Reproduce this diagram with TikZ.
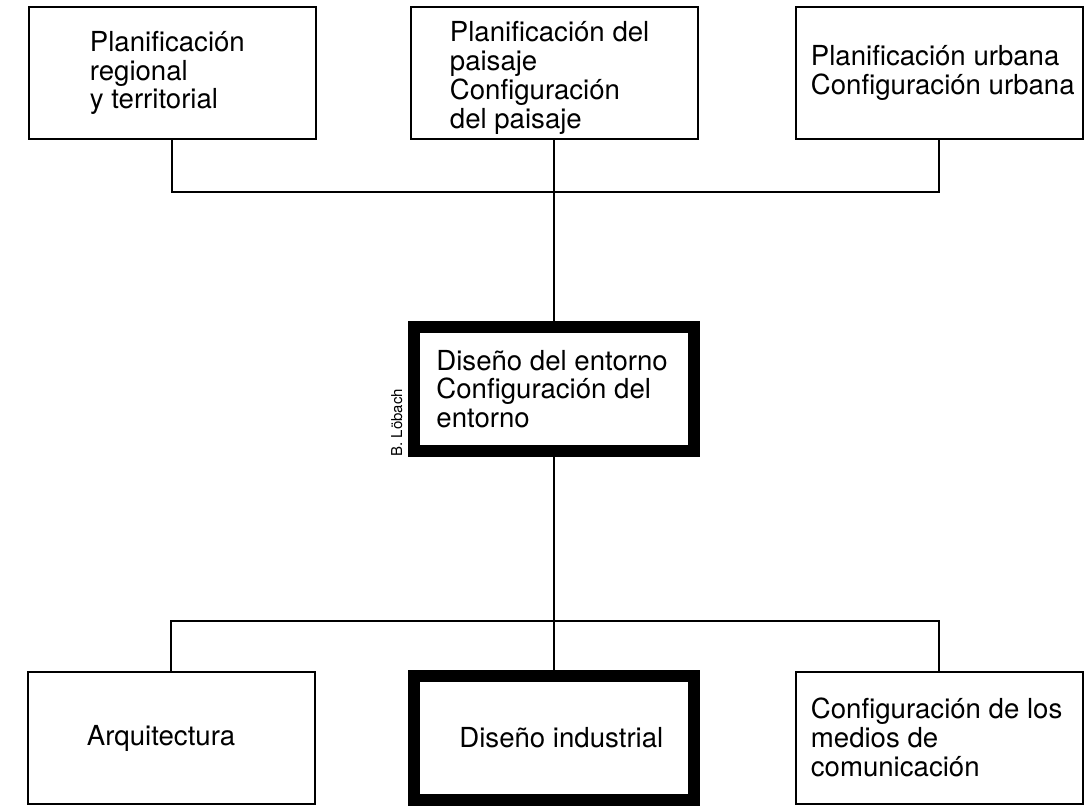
\documentclass[tikz,border=0pt]{standalone}
\usepackage{fontspec}
\setmainfont{TeX Gyre Heros}
\usetikzlibrary{positioning}

\begin{document}
\begin{tikzpicture}[x=0.5pt,y=-0.5pt,
    box/.style={draw,line width=1pt,minimum width=143.5pt,minimum height=66pt,inner sep=0pt},
    boldbox/.style={draw,line width=6pt,minimum width=140pt,minimum height=62pt,inner sep=0pt},
    boxtext/.style={anchor=west,align=left,inner sep=0pt,font=\fontsize{13.8}{14.4}\selectfont},
    link/.style={line width=0.8pt}]
  \useasboundingbox (0,0) rectangle (1090,811);
  % top row
  \node[box] (regional) at (172,73) {};
  \node[box] (paisaje) at (554,73) {};
  \node[box] (urbana) at (939,73) {};
  \node[boxtext,right=31pt of regional.west] (regionaltxt) {Planificación\\regional\\y territorial};
  \node[boxtext,right=20pt of paisaje.west,yshift=-2.5pt] (paisajetxt) {Planificación del\\paisaje\\Configuración\\del paisaje};
  \node[boxtext,right=8pt of urbana.west] (urbanatxt) {Planificación urbana\\Configuración urbana};
  % centre
  \node[boldbox] (entorno) at (554,389) {};
  \node[boxtext,right=14pt of entorno.west] (entornotxt) {Diseño del entorno\\Configuración del\\entorno};
  \node[rotate=90,anchor=base west,inner sep=0pt,font=\fontsize{7.5}{9}\selectfont] (credit) at (402,457) {B. Löbach};
  % bottom row
  \node[box] (arq) at (171,738) {};
  \node[boldbox] (industrial) at (554,737.5) {};
  \node[box] (medios) at (939,737.5) {};
  \node[boxtext,right=30pt of arq.west] (arqtxt) {Arquitectura};
  \node[boxtext,right=25.5pt of industrial.west] (industrialtxt) {Diseño industrial};
  \node[boxtext,right=8pt of medios.west] (mediostxt) {Configuración de los\\medios de\\comunicación};
  % connectors
  \coordinate (topbus) at (554,192);
  \coordinate (botbus) at (554,621);
  \draw[link] (regional.south) |- (topbus) -| (urbana.south);
  \draw[link] (paisaje.south) -- (entorno.north);
  \draw[link] (arq.north) |- (botbus) -| (medios.north);
  \draw[link] (entorno.south) -- (industrial.north);
\end{tikzpicture}
\end{document}
